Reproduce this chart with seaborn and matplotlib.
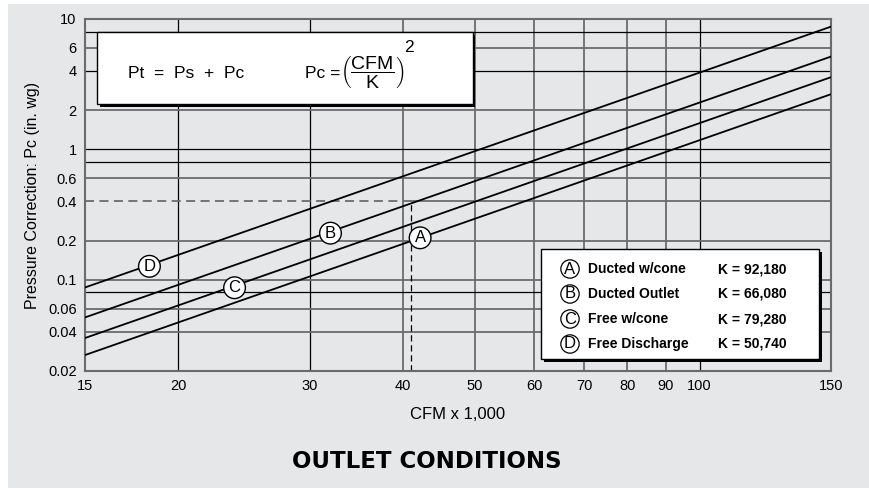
import matplotlib
matplotlib.use("Agg")
import matplotlib.pyplot as plt
from matplotlib.patches import Rectangle
import seaborn as sns
import pandas as pd

# endpoints of each curve (straight lines on log-log)
cfm_ends = [15, 150]
pc_A = [0.0265, 2.65]
pc_B = [0.0515, 5.15]
pc_C = [0.0358, 3.58]
pc_D = [0.0874, 8.74]

letters = ["A", "B", "C", "D"]
names = ["Ducted w/cone", "Ducted Outlet", "Free w/cone", "Free Discharge"]
k_values = ["92,180", "66,080", "79,280", "50,740"]
label_x = [42.2, 32.0, 23.8, 18.3]
label_y = [0.21, 0.228, 0.087, 0.127]

x_ticks = [15, 20, 30, 40, 50, 60, 70, 80, 90, 100, 150]
y_ticks = [0.02, 0.04, 0.06, 0.1, 0.2, 0.4, 0.6, 1, 2, 4, 6, 10]
y_grid = [0.04, 0.06, 0.08, 0.1, 0.2, 0.6, 0.8, 1, 2, 4, 6, 8]
ref_cfm, ref_pc = 41, 0.4

df = pd.DataFrame({
    "cfm": cfm_ends * 4,
    "pc": pc_A + pc_B + pc_C + pc_D,
    "curve": [l for l in letters for _ in cfm_ends],
})

bg = "#e6e7e9"
grey = "#6b6b6b"
plt.rcParams["font.family"] = ["Liberation Sans", "DejaVu Sans"]
plt.rcParams["mathtext.fontset"] = "custom"
plt.rcParams["mathtext.rm"] = "Liberation Sans"
plt.rcParams["mathtext.it"] = "Liberation Sans"

fig = plt.figure(figsize=(8.69, 4.88), dpi=100, facecolor="white")
fig.patches.append(Rectangle((8 / 869, 0), 1, 1 - 4 / 488, transform=fig.transFigure,
                             facecolor=bg, edgecolor="none", zorder=-1))
ax = fig.add_axes([85 / 869, 1 - 371 / 488, 746 / 869, 352 / 488])
ax.set_facecolor(bg)
ax.set_xscale("log")
ax.set_yscale("log")
ax.set_xlim(15, 150)
ax.set_ylim(0.02, 10)

# grid
dark_x = [20, 30, 100]
for x in x_ticks[1:-1]:
    if x in dark_x:
        ax.axvline(x, color="black", lw=0.9, zorder=1)
    else:
        ax.axvline(x, color=grey, lw=1.3, zorder=1)
dark_y = [8, 4, 1, 0.8, 0.08]
for y in y_grid:
    if y in dark_y:
        ax.axhline(y, color="black", lw=0.9, zorder=1)
    else:
        ax.axhline(y, color=grey, lw=1.3, zorder=1)
# 0.4 grid line runs solid only right of the reference point
ax.plot([ref_cfm, 150], [ref_pc, ref_pc], color=grey, lw=1.3, zorder=1)

sns.lineplot(data=df, x="cfm", y="pc", hue="curve", palette=["black"] * 4,
             legend=False, lw=1.3, ax=ax, zorder=3)

# reference dashed lines
ax.plot([15, ref_cfm], [ref_pc, ref_pc], color=grey, lw=1.3, ls=(0, (5, 3)), zorder=2)
ax.plot([ref_cfm, ref_cfm], [0.02, ref_pc], color="black", lw=0.9, ls=(0, (5, 3)), zorder=2)

for l, x, y in zip(letters, label_x, label_y):
    ax.text(x, y, l, ha="center", va="center", fontsize=12, zorder=5,
            bbox=dict(boxstyle="circle,pad=0.2", fc="white", ec="black", lw=1))

ax.set_xticks(x_ticks)
ax.set_xticklabels([str(x) for x in x_ticks])
ax.set_yticks(y_ticks)
ax.set_yticklabels([f"{y:g}" for y in y_ticks])
ax.minorticks_off()
ax.tick_params(length=0, labelsize=10.5, pad=6)
for s in ax.spines.values():
    s.set_color(grey)
    s.set_linewidth(1.5)

ax.set_xlabel("CFM x 1,000", fontsize=12, labelpad=10)
ax.set_ylabel("Pressure Correction: Pc (in. wg)", fontsize=11.5, labelpad=6)

# formula box
fx0, fy0, fx1, fy1 = 97 / 869, 1 - 104 / 488, 473 / 869, 1 - 32 / 488
fig.patches.append(Rectangle((fx0 + 2.5 / 869, fy0 - 2.5 / 488), fx1 - fx0, fy1 - fy0,
                             transform=fig.transFigure, fc="black", ec="none", zorder=5))
fig.patches.append(Rectangle((fx0, fy0), fx1 - fx0, fy1 - fy0, transform=fig.transFigure,
                             fc="white", ec="black", lw=1, zorder=6))
fig.text(128 / 869, 1 - 73 / 488, "Pt  =  Ps  +  Pc", fontsize=12.5, va="center", zorder=7)
fig.text(305 / 869, 1 - 73 / 488, "Pc =", fontsize=12.5, va="center", zorder=7)
fig.text(340 / 869, 1 - 73 / 488,
         r"$\mathbf{\left(\dfrac{\mathrm{CFM}}{\mathrm{K}}\right)}$",
         fontsize=14, va="center", zorder=7)
fig.text(404 / 869, 1 - 47 / 488, "2", fontsize=12.5, va="center", zorder=7)

# legend box
lx0, ly0, lx1, ly1 = 541 / 869, 1 - 359 / 488, 819 / 869, 1 - 249 / 488
fig.patches.append(Rectangle((lx0 + 2.5 / 869, ly0 - 2.5 / 488), lx1 - lx0, ly1 - ly0,
                             transform=fig.transFigure, fc="black", ec="none", zorder=5))
fig.patches.append(Rectangle((lx0, ly0), lx1 - lx0, ly1 - ly0, transform=fig.transFigure,
                             fc="white", ec="black", lw=1, zorder=6))
for i, (l, n, k) in enumerate(zip(letters, names, k_values)):
    yy = 1 - (269 + i * 25) / 488
    fig.text(570 / 869, yy, l, ha="center", va="center", fontsize=12, zorder=7,
             bbox=dict(boxstyle="circle,pad=0.1", fc="white", ec="black", lw=0.9))
    fig.text(588 / 869, yy, n, va="center", fontsize=10, fontweight="bold", zorder=7)
    fig.text(718 / 869, yy, "K = " + k, va="center", fontsize=10, fontweight="bold", zorder=7)

fig.text(427 / 869, 1 - 462 / 488, "OUTLET CONDITIONS", ha="center", va="center",
         fontsize=16.5, fontweight="heavy", family="DejaVu Sans")

fig.savefig("out.png", dpi=100, facecolor=fig.get_facecolor())
